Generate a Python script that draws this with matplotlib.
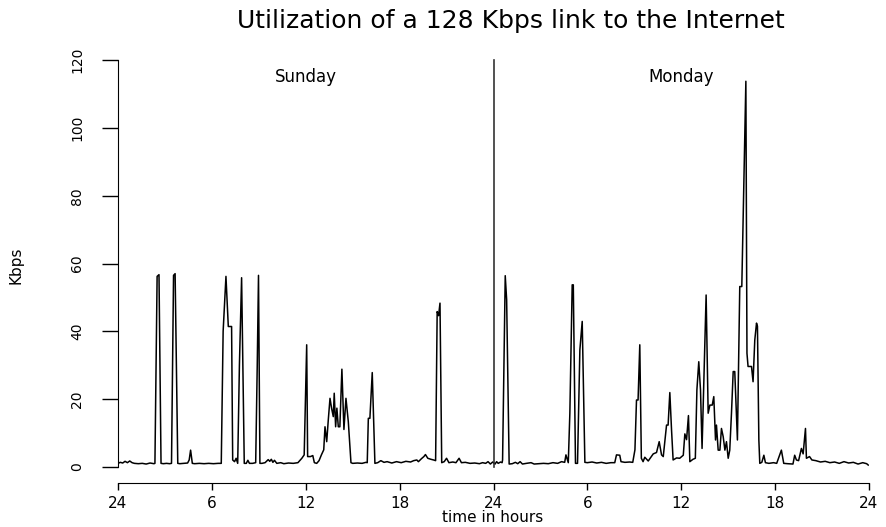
import matplotlib
matplotlib.use("Agg")
import matplotlib.pyplot as plt

# hours since midnight and link load (Kbps)
sunday_hours = [0.0, 0.15, 0.3, 0.45, 0.6, 0.75, 0.9, 1.05, 1.3, 1.55, 1.8, 2.05, 2.3,
                2.36, 2.5, 2.62, 2.75, 2.9, 3.1, 3.3, 3.42, 3.55, 3.65, 3.82,
                3.95, 4.2, 4.45, 4.55, 4.64, 4.75, 4.9, 5.2, 5.5, 5.8, 6.1, 6.4, 6.6,
                6.72, 6.9, 7.05, 7.26, 7.33, 7.45, 7.55, 7.65, 7.76, 7.9, 8.07, 8.2,
                8.3, 8.4, 8.6, 8.8, 8.9, 8.98, 9.07, 9.2, 9.4, 9.6, 9.7, 9.8, 9.9,
                10.0, 10.15, 10.4, 10.6, 10.9, 11.2, 11.5, 11.75, 11.9, 12.06, 12.12,
                12.3, 12.45, 12.55, 12.7, 12.85, 13.0, 13.15, 13.23, 13.34, 13.44,
                13.55, 13.65, 13.76, 13.82, 13.91, 13.99, 14.08, 14.18, 14.31, 14.44,
                14.57, 14.72, 14.89, 15.0, 15.3, 15.6, 15.85, 15.93, 16.0, 16.1,
                16.25, 16.42, 16.6, 16.8, 17.0, 17.2, 17.5, 17.8, 18.1, 18.4, 18.7,
                18.9, 19.1, 19.2, 19.4, 19.55, 19.65, 19.8, 20.0, 20.17, 20.3, 20.4,
                20.49, 20.58, 20.69, 20.85, 21.0, 21.15, 21.4, 21.6, 21.8, 21.95,
                22.2, 22.5, 22.8, 23.1, 23.3, 23.5, 23.65, 23.8, 23.95]
sunday_kbps = [1.0, 1.3, 1.1, 1.6, 1.2, 1.7, 1.2, 1.0, 0.9, 1.0, 0.8, 1.1, 0.9,
               1.0, 56.2, 56.7, 1.0, 0.9, 1.0, 0.9, 1.0, 56.5, 57.0, 1.0,
               0.9, 1.0, 1.1, 2.0, 4.9, 1.0, 0.9, 1.0, 0.9, 1.0, 0.9, 1.0, 1.0,
               40.0, 56.2, 41.4, 41.4, 2.0, 1.5, 2.5, 1.0, 30.0, 55.8, 1.0, 1.0,
               1.9, 1.0, 1.0, 1.2, 30.0, 56.5, 1.0, 1.0, 1.2, 2.1, 1.6, 2.2, 1.3,
               1.9, 1.0, 1.2, 0.9, 1.1, 1.0, 1.2, 2.5, 3.5, 36.0, 3.0,
               3.0, 3.3, 1.2, 1.0, 1.8, 3.5, 5.0, 11.8, 7.4, 13.8,
               20.2, 17.3, 14.8, 21.7, 11.8, 17.3, 11.8, 11.8, 28.8, 11.0,
               20.2, 13.3, 1.2, 1.0, 1.1, 1.0, 1.3, 1.2, 14.3, 14.3,
               27.8, 1.0, 1.2, 1.8, 1.3, 1.5, 1.1, 1.5, 1.2, 1.6, 1.4,
               1.8, 2.0, 1.5, 2.4, 3.0, 3.6, 2.5, 2.2, 2.0, 1.8, 45.8,
               44.6, 48.3, 1.2, 1.5, 2.5, 1.2, 1.4, 1.2, 2.5, 1.2,
               1.3, 1.0, 1.1, 0.9, 1.2, 1.0, 1.5, 0.8, 1.4]

monday_hours = [0.0, 0.1, 0.2, 0.3, 0.45, 0.55, 0.58, 0.75, 0.84, 1.0, 1.2, 1.4, 1.55,
                1.7, 1.85, 2.1, 2.4, 2.6, 2.9, 3.2, 3.5, 3.8, 4.1, 4.35, 4.55, 4.63,
                4.78, 4.88, 5.03, 5.1, 5.24, 5.37, 5.52, 5.67, 5.84, 6.0, 6.3, 6.6,
                6.9, 7.2, 7.5, 7.75, 7.86, 8.07, 8.15, 8.4, 8.7, 8.9, 9.04, 9.14,
                9.24, 9.35, 9.45, 9.56, 9.67, 9.89, 10.21, 10.42, 10.59, 10.74,
                10.85, 11.06, 11.16, 11.27, 11.38, 11.48, 11.7, 11.9, 12.13, 12.23,
                12.34, 12.46, 12.55, 12.75, 12.9, 13.0, 13.12, 13.23, 13.33, 13.46,
                13.59, 13.72, 13.83, 13.98, 14.08, 14.19, 14.25, 14.36, 14.47, 14.57,
                14.68, 14.79, 14.89, 15.0, 15.1, 15.21, 15.32, 15.42, 15.59, 15.74,
                15.87, 16.13, 16.2, 16.27, 16.49, 16.59, 16.7, 16.81, 16.87, 16.96,
                17.02, 17.15, 17.28, 17.38, 17.6, 17.9, 18.1, 18.4, 18.55, 18.8,
                19.14, 19.25, 19.36, 19.5, 19.68, 19.79, 19.94, 20.0, 20.2, 20.35,
                20.6, 20.9, 21.2, 21.5, 21.8, 22.1, 22.4, 22.7, 23.0, 23.3, 23.6,
                23.85, 23.95]
monday_kbps = [1.2, 0.8, 1.5, 1.0, 1.4, 1.2, 2.0, 56.4, 49.3, 0.8, 0.9, 1.3, 0.9,
               1.5, 0.8, 1.0, 1.2, 0.8, 0.9, 1.0, 0.9, 1.2, 1.0, 1.5, 1.3, 3.5,
               1.2, 15.8, 53.7, 53.7, 1.0, 1.0, 34.5, 42.9, 1.3, 1.2, 1.4, 1.1,
               1.3, 1.0, 1.2, 1.2, 3.5, 3.4, 1.5, 1.3, 1.4, 1.3, 5.0, 19.7,
               19.7, 36.0, 2.5, 1.5, 2.8, 1.7, 3.8, 4.2, 7.4, 3.5,
               3.0, 12.3, 12.3, 21.9, 10.8, 2.0, 2.6, 2.5, 3.4, 9.7,
               8.0, 15.1, 1.5, 2.2, 2.5, 22.7, 31.0, 22.7, 5.4, 27.6,
               50.7, 15.8, 18.2, 18.2, 20.7, 7.9, 12.3, 4.9, 4.9, 11.3,
               8.9, 4.9, 7.4, 2.5, 4.9, 15.8, 28.1, 28.1, 7.9, 53.2,
               53.2, 113.8, 33.5, 29.6, 29.6, 25.1, 37.4, 42.4, 41.5, 7.9,
               1.0, 1.3, 3.4, 1.2, 1.0, 1.2, 1.0, 4.9, 1.0, 0.9,
               0.8, 3.4, 2.0, 1.8, 5.4, 3.8, 11.3, 2.5, 3.0, 2.0,
               1.8, 1.4, 1.6, 1.2, 1.4, 1.0, 1.5, 1.1, 1.3, 0.8, 1.2,
               0.9, 0.5]

tick_hours = [0, 6, 12, 18, 24, 30, 36, 42, 48]
tick_labels = ['24', '6', '12', '18', '24', '6', '12', '18', '24']
y_ticks = [0, 20, 40, 60, 80, 100, 120]

plt.rcParams['font.family'] = ['DejaVu Sans']

fig = plt.figure(figsize=(8.86, 5.27), dpi=100)
ax = fig.add_axes([118 / 886, 44 / 527, 751 / 886, 439 / 527])

hours = sunday_hours + [h + 24 for h in monday_hours]
kbps = sunday_kbps + monday_kbps
ax.plot(hours, kbps, color='black', lw=1.1)

# day boundary
ax.plot([24, 24], [0, 120], color='#333333', lw=1.2)

ax.text(12, 115, 'Sunday', ha='center', va='center', fontsize=12)
ax.text(36, 115, 'Monday', ha='center', va='center', fontsize=12)

ax.set_xlim(0, 48)
ax.set_ylim(-4.8, 124.8)

# R-like axes
ax.spines['top'].set_visible(False)
ax.spines['right'].set_visible(False)
ax.spines['left'].set_bounds(0, 120)
ax.spines['bottom'].set_bounds(0, 48)

ax.set_xticks(tick_hours)
ax.set_xticklabels(tick_labels, fontsize=11)
ax.set_yticks(y_ticks)
ax.set_yticklabels([str(v) for v in y_ticks], fontsize=10, rotation=90, va='center')
ax.tick_params(axis='x', length=5, width=1, pad=4)
ax.tick_params(axis='y', length=11.5, width=1, pad=13)

fig.text(493 / 886, 1 - 518 / 527, 'time in hours', ha='center', va='center', fontsize=11)
fig.text(16 / 886, 1 - 265 / 527, 'Kbps', ha='center', va='center', rotation=90,
         fontsize=11)

fig.text(511 / 886, 1 - 21 / 527, 'Utilization of a 128 Kbps link to the Internet',
         ha='center', va='center', fontsize=18)

fig.savefig('out.png', dpi=100)
plt.close('all')
